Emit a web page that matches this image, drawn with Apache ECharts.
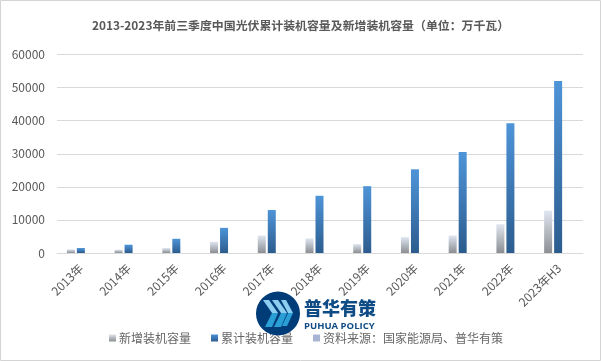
<!DOCTYPE html>
<html><head><meta charset="utf-8">
<script src="https://cdn.jsdelivr.net/npm/echarts@6/dist/echarts.min.js"></script>
<style>html,body{margin:0;padding:0;background:#fff}#c{width:601px;height:361px}</style></head>
<body><div id="c"></div>
<script>
const categories=['2013年','2014年','2015年','2016年','2017年','2018年','2019年','2020年','2021年','2022年','2023年H3'];
const newCapacity=[1100,1000,1500,3400,5300,4400,2700,4800,5300,8700,12800];
const totalCapacity=[1500,2500,4300,7600,13000,17300,20200,25300,30500,39200,52000];
const titleText='2013-2023年前三季度中国光伏累计装机容量及新增装机容量（单位：万千瓦）';
const legendNames=['新增装机容量','累计装机容量','资料来源：国家能源局、普华有策'];
const font='"Noto Sans CJK SC","Noto Sans",sans-serif';
const grad=(a,b)=>new echarts.graphic.LinearGradient(0,0,0,1,[{offset:0,color:a},{offset:1,color:b}]);
const chart=echarts.init(document.getElementById('c'),null,{renderer:'canvas'});
chart.setOption({
 animation:false,backgroundColor:'#fff',
 title:{text:titleText,left:'center',top:15,textStyle:{fontFamily:font,fontSize:11.9,fontWeight:'bold',color:'#595959'}},
 legend:{data:legendNames.map((n,i)=>({name:n,icon:'rect',itemStyle:{color:i==0?grad('#dfe4ea','#8b8e93'):i==1?grad('#4a8fd4','#2c5c8e'):'#a9b4d4'}})),
  left:104,top:327,itemWidth:7,itemHeight:7,itemGap:20,textStyle:{fontFamily:font,fontSize:12,color:'#666',padding:[0,0,0,-2]}},
 grid:[{left:57,right:18,top:54.5,height:198.5},{left:52,right:24,top:54.5,height:198.5}],
 xAxis:[{gridIndex:0,type:'category',data:categories,axisLine:{lineStyle:{color:'#d9d9d9'}},axisTick:{show:false},
   axisLabel:{interval:0,rotate:45,color:'#595959',fontFamily:font,fontSize:12,margin:13}},
  {gridIndex:1,type:'category',data:categories,axisLine:{show:false},axisTick:{show:false},axisLabel:{show:false}}],
 yAxis:[{gridIndex:0,type:'value',min:0,max:60000,interval:10000,axisLine:{show:false},axisTick:{show:false},
   axisLabel:{color:'#595959',fontFamily:font,fontSize:12,margin:12,formatter:v=>String(v)},splitLine:{lineStyle:{color:'#d9d9d9'}}},
  {gridIndex:1,type:'value',min:0,max:60000,interval:10000,show:false}],
 series:[
  {name:legendNames[0],type:'bar',xAxisIndex:1,yAxisIndex:1,data:newCapacity,barWidth:8,barGap:'25%',itemStyle:{color:grad('#dfe6f0','#8b8e93')}},
  {name:legendNames[1],type:'bar',xAxisIndex:1,yAxisIndex:1,data:totalCapacity,barWidth:8,barGap:'25%',itemStyle:{color:grad('#4e94d8','#2c5c8e')}},
  {name:legendNames[2],type:'bar',xAxisIndex:0,yAxisIndex:0,data:[],itemStyle:{color:'#a9b4d4'}}
 ],
 graphic:[
  {type:'rect',silent:true,z:-1,shape:{x:0.5,y:0.5,width:600,height:360},style:{fill:'none',stroke:'#d4d4d4'}},
  {type:'circle',z:50,shape:{cx:278,cy:313.5,r:22},style:{fill:'#003c78'}},
  {type:'polygon',z:51,shape:{points:[[263,300],[269,300],[278,313],[272,313]]},style:{fill:'#8ccdf0'}},
  {type:'polygon',z:51,shape:{points:[[272,300],[278,300],[287,313],[281,313]]},style:{fill:'#8ccdf0'}},
  {type:'polygon',z:51,shape:{points:[[281,300],[286,300],[293,313],[288,313]]},style:{fill:'#8ccdf0'}},
  {type:'polygon',z:51,shape:{points:[[272,313],[278,313],[272,327],[265,327]]},style:{fill:'#2a9fd6'}},
  {type:'polygon',z:51,shape:{points:[[281,313],[287,313],[281,327],[274,327]]},style:{fill:'#2a9fd6'}},
  {type:'polygon',z:51,shape:{points:[[288,313],[293,313],[287,326],[282,326]]},style:{fill:'#2a9fd6'}},
  {type:'text',z:50,left:304,top:299,style:{text:'普华有策',fontFamily:font,fontSize:18,fontWeight:900,fill:'#0f4c85'}},
  {type:'text',z:50,left:304,top:321,style:{text:'PUHUA POLICY',fontFamily:'"Open Sans",sans-serif',fontSize:9.5,fontWeight:'bold',fill:'#0f4c85'}}
 ]
});
</script></body></html>
